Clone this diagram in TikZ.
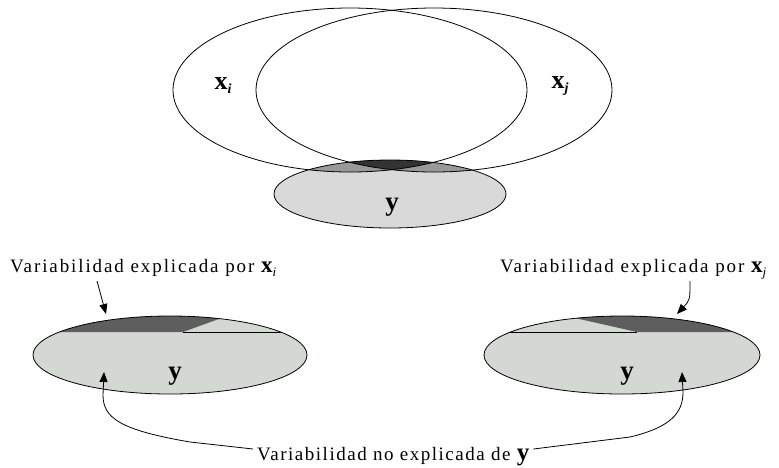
\documentclass[tikz,border=0pt]{standalone}
\usepackage{fontspec}
\setmainfont{Liberation Serif}
\newfontfamily\lbl[LetterSpace=10]{Liberation Serif}
\newfontfamily\lblb[LetterSpace=8]{Liberation Serif}
\usetikzlibrary{arrows.meta}
\definecolor{ylight}{HTML}{D9D9D9}
\definecolor{ymed}{HTML}{999999}
\definecolor{ydark}{HTML}{333333}
\definecolor{blight}{HTML}{D3D8D3}
\definecolor{bdark}{HTML}{5E5E5E}
\newcommand{\bxs}[1]{{\fontsize{23}{23}\selectfont\bfseries x}\raisebox{-4pt}{\fontsize{13}{13}\selectfont\itshape #1}}
\newcommand{\bxt}[1]{{\fontsize{26}{26}\selectfont\bfseries x}\raisebox{-4pt}{\fontsize{14}{14}\selectfont\itshape #1}}
\begin{document}
\begin{tikzpicture}[x=1pt,y=-1pt,
  outl/.style={draw=black,line width=0.8pt},
  conn/.style={draw=black,line width=0.8pt,-{Triangle[length=10pt,width=8pt]}},
  lab/.style={inner sep=0pt,anchor=base west,font=\lbl\fontsize{19}{19}\selectfont},
  var/.style={inner sep=0pt,font=\fontsize{22}{22}\selectfont\bfseries}]
\useasboundingbox (0,0) rectangle (779,467);
% ---------- top diagram ----------
\fill[ylight] (390,194) ellipse [x radius=116, y radius=34];
\begin{scope}
  \clip (390,194) ellipse [x radius=116, y radius=34];
  \fill[ymed] (350,90) ellipse [x radius=177, y radius=82];
  \fill[ymed] (434,90) ellipse [x radius=178, y radius=82];
  \clip (350,90) ellipse [x radius=177, y radius=82];
  \fill[ydark] (434,90) ellipse [x radius=178, y radius=82];
\end{scope}
\draw[outl] (350,90) ellipse [x radius=177, y radius=82];
\draw[outl] (434,90) ellipse [x radius=178, y radius=82];
\draw[outl] (390,194) ellipse [x radius=116, y radius=34];
\node[var] (lxi) at (223,86) {\bxt{i}};
\node[var] (lxj) at (560,86) {\bxt{j}};
\node[var,font=\fontsize{27}{27}\selectfont\bfseries] (ly) at (392,207) {y};
% ---------- bottom left ----------
\fill[blight] (170,355) ellipse [x radius=137, y radius=39];
\begin{scope}
  \clip (170,355) ellipse [x radius=137, y radius=39];
  \fill[bdark] (20,300) -- (271,300) -- (183,332) -- (20,332) -- cycle;
  \draw[line width=0.8pt] (183,332) -- (300,332);
\end{scope}
\draw[outl] (170,355) ellipse [x radius=137, y radius=39];
\node[var,font=\fontsize{27}{27}\selectfont\bfseries] (yl) at (175,376) {y};
% ---------- bottom right ----------
\fill[blight] (622,355) ellipse [x radius=138, y radius=39];
\begin{scope}
  \clip (622,355) ellipse [x radius=138, y radius=39];
  \fill[bdark] (495,300) -- (780,300) -- (780,332) -- (637,332) -- cycle;
  \draw[line width=0.8pt] (480,332) -- (637,332);
\end{scope}
\draw[outl] (622,355) ellipse [x radius=138, y radius=39];
\node[var,font=\fontsize{27}{27}\selectfont\bfseries] (yr) at (627,376) {y};
% ---------- labels ----------
\node[lab] (lt) at (10,272) {Variabilidad explicada por \bxs{i}};
\node[lab] (rt) at (500,272) {Variabilidad explicada por \bxs{j}};
\node[lab,font=\lblb\fontsize{19}{19}\selectfont] (bt) at (257,460) {Variabilidad no explicada de {\fontsize{25}{25}\selectfont\bfseries y}};
% ---------- connectors ----------
\coordinate (sL) at (97,281);
\coordinate (eL) at (106,314);
\coordinate (sR) at (690,281);
\coordinate (eR) at (677,314);
\coordinate (tipL) at (104,372);
\coordinate (tipR) at (682,372);
\draw[conn] (sL) -- (eL);
\draw[conn] (sR) .. controls (690,300) .. (eR);
\draw[conn] ([xshift=-4pt]bt.west |- 0,449) -- (190,442) .. controls (120,430) and (103,418) .. (103,395) -- (tipL);
\draw[conn] ([xshift=4pt]bt.east |- 0,449) -- (630,437) .. controls (672,427) and (683,412) .. (683,392) -- (tipR);
\end{tikzpicture}
\end{document}
